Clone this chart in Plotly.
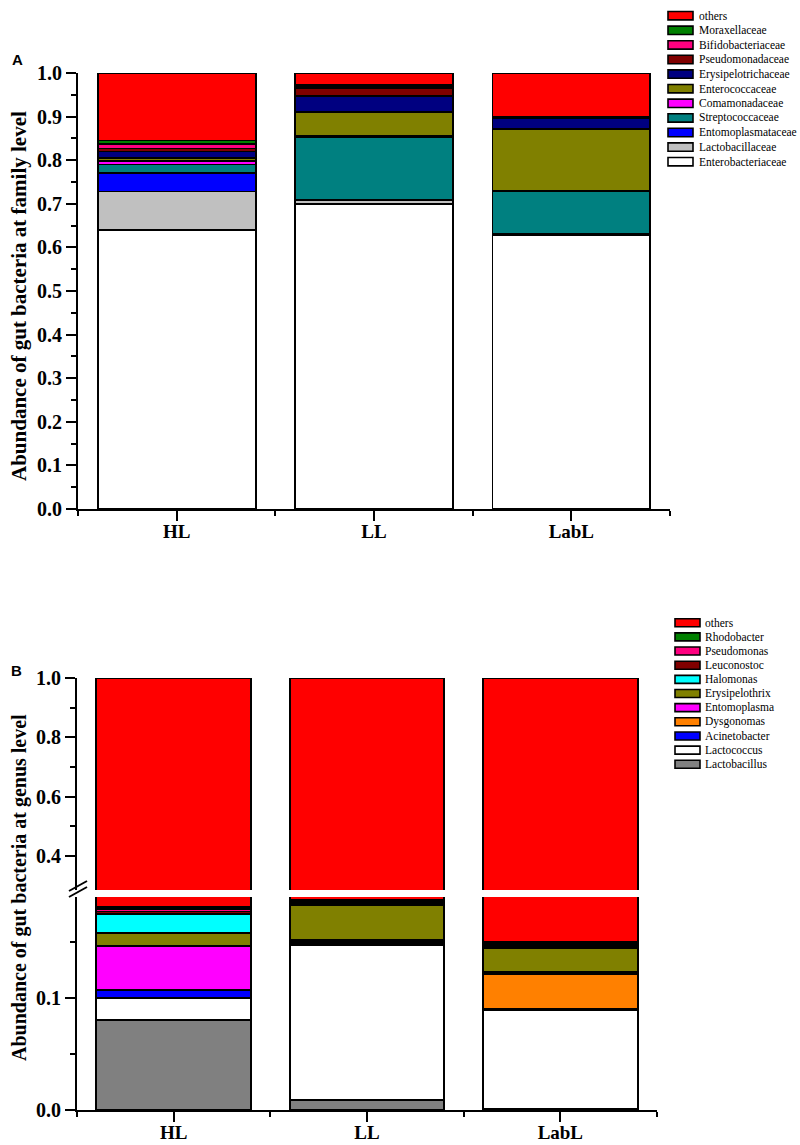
import plotly.graph_objects as go

# ---------------- data ----------------
groups = ["HL", "LL", "LabL"]

# Panel A: family level (bottom -> top stacking order)
family_names = ["Enterobacteriaceae", "Lactobacillaceae", "Entomoplasmataceae",
                "Streptococcaceae", "Comamonadaceae", "Enterococcaceae",
                "Erysipelotrichaceae", "Pseudomonadaceae", "Bifidobacteriaceae",
                "Moraxellaceae", "others"]
family_colors = ["#FFFFFF", "#C0C0C0", "#0000FF", "#008080", "#FF00FF", "#808000",
                 "#000080", "#800000", "#FF0080", "#008000", "#FF0000"]
enterobacteriaceae = [0.640, 0.700, 0.628]
lactobacillaceae = [0.088, 0.008, 0.002]
entomoplasmataceae = [0.042, 0.001, 0.001]
streptococcaceae = [0.020, 0.145, 0.097]
comamonadaceae = [0.008, 0.001, 0.001]
enterococcaceae = [0.007, 0.056, 0.143]
erysipelotrichaceae = [0.015, 0.036, 0.024]
pseudomonadaceae = [0.007, 0.019, 0.001]
bifidobacteriaceae = [0.010, 0.002, 0.001]
moraxellaceae = [0.008, 0.004, 0.001]
others_family = [0.155, 0.028, 0.101]
family_values = [enterobacteriaceae, lactobacillaceae, entomoplasmataceae,
                 streptococcaceae, comamonadaceae, enterococcaceae,
                 erysipelotrichaceae, pseudomonadaceae, bifidobacteriaceae,
                 moraxellaceae, others_family]

# Panel B: genus level (bottom -> top stacking order)
genus_names = ["Lactobacillus", "Lactococcus", "Acinetobacter", "Dysgonomas",
               "Entomoplasma", "Erysipelothrix", "Halomonas", "Leuconostoc",
               "Pseudomonas", "Rhodobacter", "others"]
genus_colors = ["#808080", "#FFFFFF", "#0000FF", "#FF8000", "#FF00FF", "#808000",
                "#00FFFF", "#800000", "#FF0080", "#008000", "#FF0000"]
lactobacillus = [0.080, 0.009, 0.001]
lactococcus = [0.020, 0.138, 0.088]
acinetobacter = [0.007, 0.0015, 0.001]
dysgonomas = [0.000, 0.0015, 0.031]
entomoplasma = [0.039, 0.0015, 0.002]
erysipelothrix = [0.012, 0.031, 0.021]
halomonas = [0.017, 0.001, 0.0015]
leuconostoc = [0.002, 0.002, 0.0015]
pseudomonas = [0.002, 0.001, 0.0015]
rhodobacter = [0.002, 0.001, 0.0015]
others_genus = [0.819, 0.812, 0.850]
genus_values = [lactobacillus, lactococcus, acinetobacter, dysgonomas,
                entomoplasma, erysipelothrix, halomonas, leuconostoc,
                pseudomonas, rhodobacter, others_genus]

family_ticks = [0.0, 0.1, 0.2, 0.3, 0.4, 0.5, 0.6, 0.7, 0.8, 0.9, 1.0]
genus_ticks_low = [0.0, 0.1]
genus_ticks_high = [0.4, 0.6, 0.8, 1.0]

# ---------------- layout helpers ----------------
W, H = 800, 1145
def px(x):
    return x / W
def py(y):
    return 1 - y / H

SERIF = "Liberation Serif, Times New Roman, serif"
xpos = list(range(len(groups)))

fig = go.Figure()

for name, color, vals in zip(family_names, family_colors, family_values):
    fig.add_trace(go.Bar(x=xpos, y=vals, name=name, width=0.8,
                         marker=dict(color=color, line=dict(color="black", width=1.8)),
                         xaxis="x", yaxis="y", showlegend=False))

for name, color, vals in zip(genus_names, genus_colors, genus_values):
    for ya in ("y2", "y3"):
        fig.add_trace(go.Bar(x=xpos, y=vals, name=name, width=0.8,
                             marker=dict(color=color, line=dict(color="black", width=1.8)),
                             xaxis="x2", yaxis=ya, showlegend=False))

ytickfont = dict(family=SERIF, size=20, color="black", weight="bold")
xtickfont = dict(family=SERIF, size=19, color="black", weight="bold")
common_x = dict(tickvals=xpos, ticktext=groups, range=[-0.5, 2.5], showline=True,
                linecolor="black", linewidth=2, ticks="outside", ticklen=10,
                tickwidth=2, tickcolor="black", showgrid=False, zeroline=False,
                tickfont=xtickfont, automargin=False, ticklabelstandoff=-6,
                minor=dict(tickvals=[-0.5, 0.5, 1.5, 2.5], ticks="outside",
                           ticklen=5, tickwidth=2, tickcolor="black", showgrid=False))
common_y = dict(showline=True, linecolor="black", linewidth=2, ticks="outside",
                ticklen=10, tickwidth=2, tickcolor="black", showgrid=False,
                zeroline=False, tickfont=ytickfont, tickformat=".1f", automargin=False)

fig.update_layout(
    width=W, height=H, margin=dict(l=0, r=0, t=0, b=0),
    paper_bgcolor="white", plot_bgcolor="white", barmode="stack", bargap=0.2,
    showlegend=False,
    xaxis=dict(domain=[px(78), px(670)], anchor="y", **common_x),
    yaxis=dict(domain=[py(509), py(73)], anchor="x", range=[0, 1.0],
               tickvals=family_ticks,
               minor=dict(tickvals=[0.05 + 0.1 * i for i in range(10)], ticks="outside",
                          ticklen=5, tickwidth=2, tickcolor="black", showgrid=False),
               **common_y),
    xaxis2=dict(domain=[px(77), px(657)], anchor="y2", **common_x),
    yaxis2=dict(domain=[py(1110), py(897)], anchor="x2", range=[0, 0.19],
                tickvals=genus_ticks_low,
                minor=dict(tickvals=[0.05, 0.15], ticks="outside", ticklen=5,
                           tickwidth=2, tickcolor="black", showgrid=False),
                **common_y),
    yaxis3=dict(domain=[py(890), py(678)], anchor="x2", range=[0.285, 1.0],
                tickvals=genus_ticks_high,
                minor=dict(tickvals=[0.5, 0.7, 0.9], ticks="outside", ticklen=5,
                           tickwidth=2, tickcolor="black", showgrid=False),
                **common_y),
)

annotations = []
shapes = []

def note(text, x, y, font, angle=0, xanchor="center"):
    annotations.append(dict(text=text, x=px(x), y=py(y), xref="paper", yref="paper",
                            xanchor=xanchor, yanchor="middle", textangle=angle,
                            showarrow=False, font=font))

# axis titles
note("Abundance of gut bacteria at family level", 19, 296,
     dict(family=SERIF, size=21, color="black", weight="bold"), angle=-90)
note("Abundance of gut bacteria at genus level", 19, 888,
     dict(family=SERIF, size=20, color="black", weight="bold"), angle=-90)
# panel letters
note("A", 17, 59, dict(family="Liberation Sans, Arial", size=15, color="black", weight="bold"))
note("B", 16, 670, dict(family="Liberation Sans, Arial", size=15, color="black", weight="bold"))

# axis break marks
for dy in (0, 6):
    shapes.append(dict(type="line", xref="paper", yref="paper",
                       x0=px(69), y0=py(891 + dy), x1=px(87), y1=py(881 + dy),
                       line=dict(color="black", width=2)))

# legends (top entry = last stacked series)
def add_legend(names, colors, x0, x1, xt, y_top, step, half):
    n = len(names)
    for i in range(n):
        k = n - 1 - i
        yc = y_top + step * i
        shapes.append(dict(type="rect", xref="paper", yref="paper",
                           x0=px(x0), x1=px(x1), y0=py(yc - half), y1=py(yc + half),
                           fillcolor=colors[k], line=dict(color="black", width=1.6)))
        note(names[k], xt, yc, dict(family=SERIF, size=11.5, color="black"), xanchor="left")

add_legend(family_names, family_colors, 668, 693, 697, 15.7, 14.6, 4.2)
add_legend(genus_names, genus_colors, 675, 700, 703, 622.7, 14.16, 4.0)

fig.update_layout(annotations=annotations, shapes=shapes)
fig.write_html("out.html", config={"displayModeBar": False},
               post_script="document.body.style.margin='0';document.body.style.overflow='hidden';")
